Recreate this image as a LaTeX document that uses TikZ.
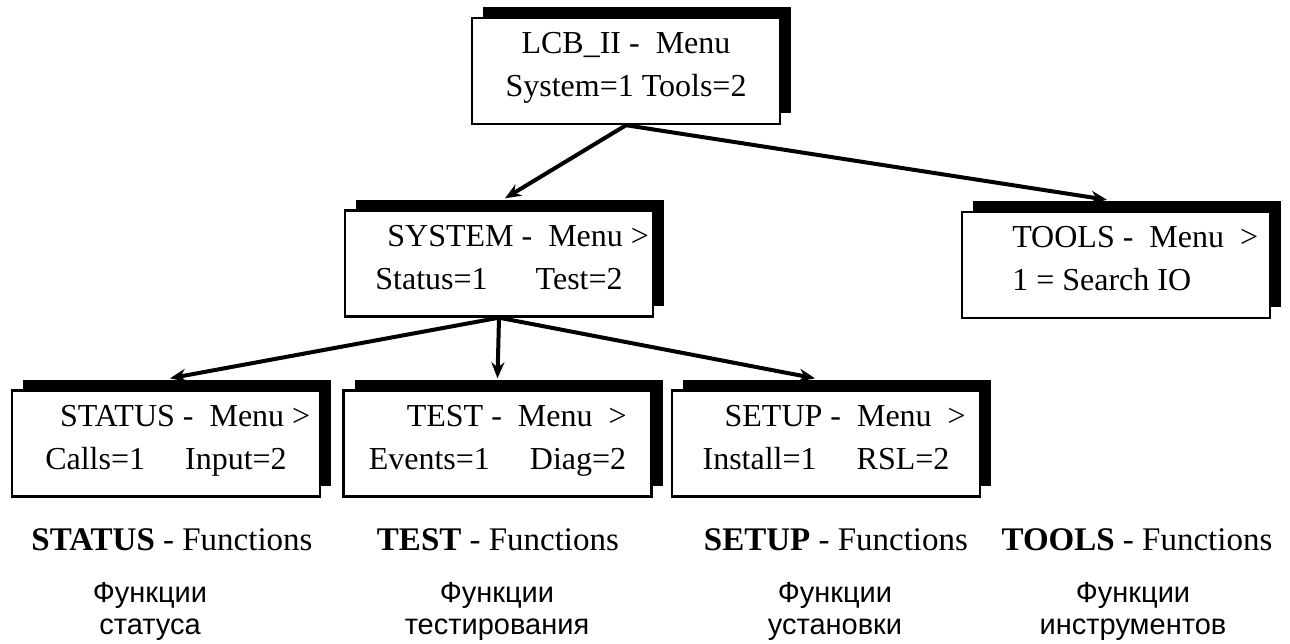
\documentclass[tikz,border=0pt]{standalone}
\usepackage{fontspec}
\setmainfont{Liberation Serif}
\newfontfamily\rusfont{Liberation Sans}
\usepackage{tikz}
\usetikzlibrary{shadows,arrows.meta}
\tikzstyle{menu} = [rectangle, minimum width=154pt, minimum height=53pt, inner sep=0pt, align=center, draw=black, line width=1.2pt, fill=white, font=\fontsize{16}{21.5}\selectfont, execute at begin node=\strut, execute at end node=\strut, drop shadow={shadow xshift=5.5pt, shadow yshift=5.5pt, fill=black, opacity=1}]
\tikzstyle{fnlabel} = [font=\fontsize{16.5}{18}\selectfont]
\tikzstyle{rulabel} = [align=center, font=\rusfont\fontsize{14.5}{16}\selectfont]
\tikzstyle{arrow} = [line width=2pt,->,>={Stealth[length=8pt,width=6.5pt]}]
\newcommand{\ind}{\hspace*{1.2em}}

\begin{document}
\begin{tikzpicture}[x=0.5pt, y=-0.5pt]
      \useasboundingbox (0,0) rectangle (1290,643);
      \node (lcb)[menu] at (626,71) {LCB\_II -~ Menu\\System=1 Tools=2};
      \node (system)[menu] at (499,263.5) {\ind SYSTEM -~ Menu >\\Status=1\quad\ \ Test=2};
      \node (tools)[menu, align=left] at (1116,265) {\ind TOOLS -~ Menu~ >\\\ind 1 = Search IO};
      \node (status)[menu] at (166,443.5) {\ind STATUS -~ Menu >\\Calls=1\quad\ Input=2};
      \node (test)[menu] at (497.5,443.5) {\ind TEST -~ Menu~ >\\Events=1\quad\ Diag=2};
      \node (setup)[menu] at (826,443.5) {\ind SETUP -~ Menu~ >\\Install=1\quad\ RSL=2};
      \node (statusfn)[fnlabel] at (172,540) {\textbf{STATUS} - Functions};
      \node (testfn)[fnlabel] at (498,540) {\textbf{TEST} - Functions};
      \node (setupfn)[fnlabel] at (836,540) {\textbf{SETUP} - Functions};
      \node (toolsfn)[fnlabel] at (1137,540) {\textbf{TOOLS} - Functions};
      \node (statusru)[rulabel] at (150,611) {Функции\\статуса};
      \node (testru)[rulabel] at (497,611) {Функции\\тестирования};
      \node (setupru)[rulabel] at (835,611) {Функции\\установки};
      \node (toolsru)[rulabel] at (1133,611) {Функции\\инструментов};
      \draw [arrow](lcb.south)--([xshift=3pt,yshift=5.5pt]system.north);
      \draw [arrow](lcb.south)--([xshift=-4.5pt,yshift=5.5pt]tools.north);
      \draw [arrow](system.south)--([xshift=2pt,yshift=5.5pt]status.north);
      \draw [arrow](system.south)--([yshift=5.5pt]test.north);
      \draw [arrow](system.south)--([xshift=-5.5pt,yshift=5.5pt]setup.north);
\end{tikzpicture}
\end{document}
